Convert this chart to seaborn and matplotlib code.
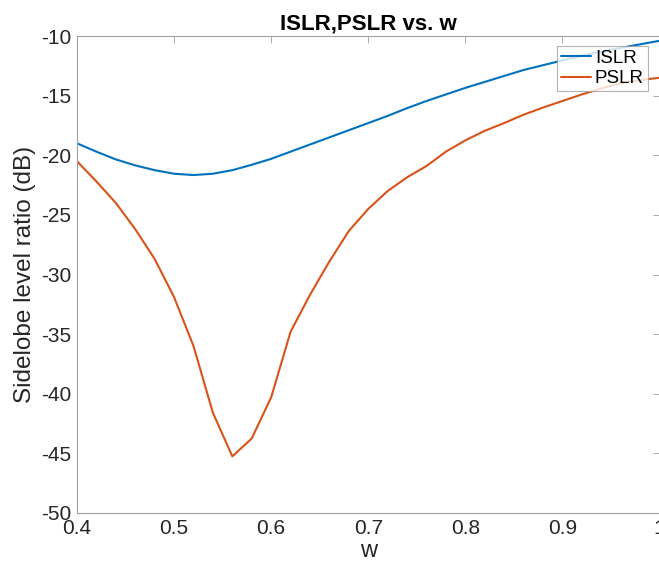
import numpy as np
import pandas as pd
import seaborn as sns
import matplotlib
matplotlib.use("Agg")
import matplotlib.pyplot as plt

w = [0.40, 0.42, 0.44, 0.46, 0.48, 0.50, 0.52, 0.54, 0.56, 0.58, 0.60,
     0.62, 0.64, 0.66, 0.68, 0.70, 0.72, 0.74, 0.76, 0.78, 0.80,
     0.82, 0.84, 0.86, 0.88, 0.90, 0.92, 0.94, 0.96, 0.98, 1.00]
islr = [-19.0, -19.7, -20.35, -20.85, -21.25, -21.55, -21.66, -21.55, -21.25, -20.8, -20.3,
        -19.7, -19.1, -18.5, -17.9, -17.3, -16.7, -16.05, -15.45, -14.9, -14.35,
        -13.85, -13.35, -12.85, -12.45, -12.05, -11.65, -11.3, -11.0, -10.7, -10.4]
pslr = [-20.5, -22.2, -24.0, -26.2, -28.7, -31.9, -36.0, -41.6, -45.25, -43.75, -40.3,
        -34.8, -31.7, -28.9, -26.35, -24.5, -23.0, -21.85, -20.9, -19.7, -18.75,
        -17.95, -17.3, -16.6, -16.0, -15.45, -14.9, -14.4, -13.95, -13.7, -13.5]
series = ["ISLR", "PSLR"]
colors = ["#0072BD", "#D95319"]
xticks = [0.4, 0.5, 0.6, 0.7, 0.8, 0.9, 1.0]
xticklabels = ["0.4", "0.5", "0.6", "0.7", "0.8", "0.9", "1"]
yticks = [-50, -45, -40, -35, -30, -25, -20, -15, -10]

df = pd.DataFrame({
    "w": w * 2,
    "value": islr + pslr,
    "series": [series[0]] * len(w) + [series[1]] * len(w),
})

sns.set_style("white")
plt.rcParams["font.family"] = ["Liberation Sans", "DejaVu Sans"]
plt.rcParams["axes.unicode_minus"] = False

fig = plt.figure(figsize=(6.59, 5.69), dpi=100)
ax = fig.add_axes([77 / 659, 1 - 513 / 569, (659.5 - 77) / 659, (513 - 36) / 569])
sns.lineplot(data=df, x="w", y="value", hue="series", palette=colors, ax=ax,
             linewidth=1.5, legend=True)

ax.set_xlim(0.4, 1.0)
ax.set_ylim(-50, -10)
ax.set_xticks(xticks)
ax.set_xticklabels(xticklabels)
ax.set_yticks(yticks)
grey = "#262626"
ax.tick_params(direction="in", length=5, width=0.6, colors="#a0a0a0",
               labelcolor=grey, labelsize=15, top=True, right=True, pad=4)
for s in ax.spines.values():
    s.set_color("#a0a0a0")
    s.set_linewidth(0.8)
ax.set_xlabel("w", fontsize=17, color=grey, labelpad=2)
ax.set_ylabel("Sidelobe level ratio (dB)", fontsize=17.5, color=grey, labelpad=4)
ax.set_title("ISLR,PSLR vs. w", fontsize=16, fontweight="bold", color="black", pad=5)

leg = ax.legend(loc="upper right", bbox_to_anchor=(648 / 659, 1 - 45.5 / 569),
                bbox_transform=fig.transFigure, fontsize=13.5, frameon=True,
                fancybox=False, borderpad=0.22, handlelength=1.6, handletextpad=0.2,
                labelspacing=0.18, borderaxespad=0)
leg.get_frame().set_edgecolor("#a0a0a0")
leg.get_frame().set_linewidth(0.8)
for t in leg.get_texts():
    t.set_color("black")

fig.savefig("out.png", dpi=100)
